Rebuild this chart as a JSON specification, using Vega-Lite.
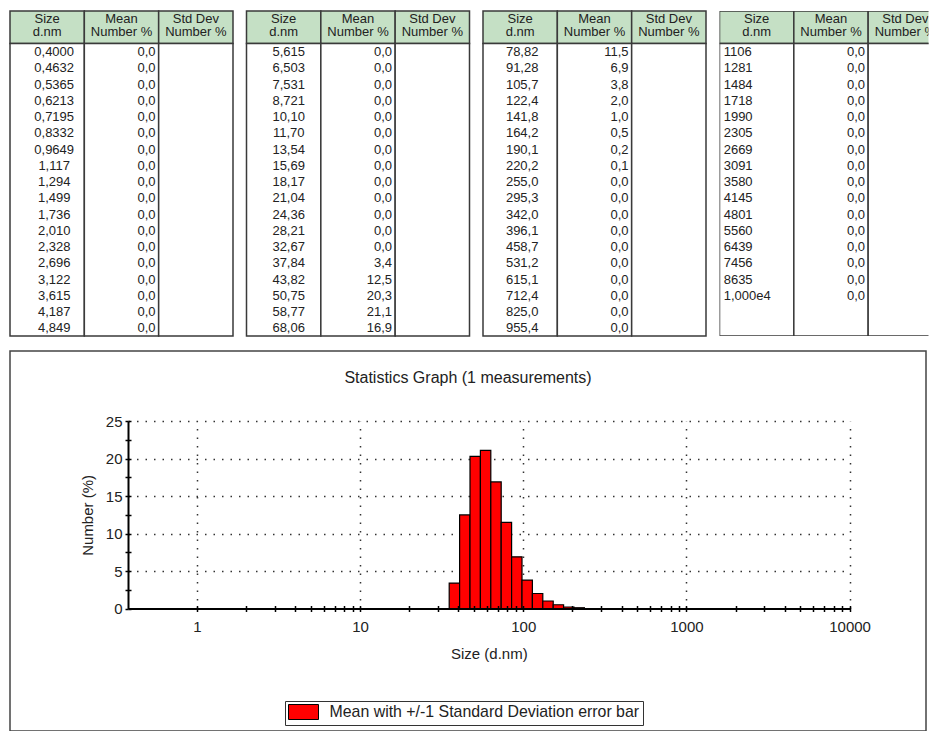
{
"$schema": "https://vega.github.io/schema/vega-lite/v6.json",
"padding": {"left": 9, "top": 10, "right": 0, "bottom": 0},
"datasets": {
"hdr": [{"col":"size","h":"Size\nd.nm"},{"col":"mean","h":"Mean\nNumber %"},{"col":"sd","h":"Std Dev\nNumber %"}],
"tbl": [
{"t":1,"r":0,"s":"0,4000","m":"0,0"},{"t":1,"r":1,"s":"0,4632","m":"0,0"},{"t":1,"r":2,"s":"0,5365","m":"0,0"},{"t":1,"r":3,"s":"0,6213","m":"0,0"},{"t":1,"r":4,"s":"0,7195","m":"0,0"},{"t":1,"r":5,"s":"0,8332","m":"0,0"},{"t":1,"r":6,"s":"0,9649","m":"0,0"},{"t":1,"r":7,"s":"1,117","m":"0,0"},{"t":1,"r":8,"s":"1,294","m":"0,0"},{"t":1,"r":9,"s":"1,499","m":"0,0"},{"t":1,"r":10,"s":"1,736","m":"0,0"},{"t":1,"r":11,"s":"2,010","m":"0,0"},{"t":1,"r":12,"s":"2,328","m":"0,0"},{"t":1,"r":13,"s":"2,696","m":"0,0"},{"t":1,"r":14,"s":"3,122","m":"0,0"},{"t":1,"r":15,"s":"3,615","m":"0,0"},{"t":1,"r":16,"s":"4,187","m":"0,0"},{"t":1,"r":17,"s":"4,849","m":"0,0"},
{"t":2,"r":0,"s":"5,615","m":"0,0"},{"t":2,"r":1,"s":"6,503","m":"0,0"},{"t":2,"r":2,"s":"7,531","m":"0,0"},{"t":2,"r":3,"s":"8,721","m":"0,0"},{"t":2,"r":4,"s":"10,10","m":"0,0"},{"t":2,"r":5,"s":"11,70","m":"0,0"},{"t":2,"r":6,"s":"13,54","m":"0,0"},{"t":2,"r":7,"s":"15,69","m":"0,0"},{"t":2,"r":8,"s":"18,17","m":"0,0"},{"t":2,"r":9,"s":"21,04","m":"0,0"},{"t":2,"r":10,"s":"24,36","m":"0,0"},{"t":2,"r":11,"s":"28,21","m":"0,0"},{"t":2,"r":12,"s":"32,67","m":"0,0"},{"t":2,"r":13,"s":"37,84","m":"3,4"},{"t":2,"r":14,"s":"43,82","m":"12,5"},{"t":2,"r":15,"s":"50,75","m":"20,3"},{"t":2,"r":16,"s":"58,77","m":"21,1"},{"t":2,"r":17,"s":"68,06","m":"16,9"},
{"t":3,"r":0,"s":"78,82","m":"11,5"},{"t":3,"r":1,"s":"91,28","m":"6,9"},{"t":3,"r":2,"s":"105,7","m":"3,8"},{"t":3,"r":3,"s":"122,4","m":"2,0"},{"t":3,"r":4,"s":"141,8","m":"1,0"},{"t":3,"r":5,"s":"164,2","m":"0,5"},{"t":3,"r":6,"s":"190,1","m":"0,2"},{"t":3,"r":7,"s":"220,2","m":"0,1"},{"t":3,"r":8,"s":"255,0","m":"0,0"},{"t":3,"r":9,"s":"295,3","m":"0,0"},{"t":3,"r":10,"s":"342,0","m":"0,0"},{"t":3,"r":11,"s":"396,1","m":"0,0"},{"t":3,"r":12,"s":"458,7","m":"0,0"},{"t":3,"r":13,"s":"531,2","m":"0,0"},{"t":3,"r":14,"s":"615,1","m":"0,0"},{"t":3,"r":15,"s":"712,4","m":"0,0"},{"t":3,"r":16,"s":"825,0","m":"0,0"},{"t":3,"r":17,"s":"955,4","m":"0,0"},
{"t":4,"r":0,"s":"1106","m":"0,0"},{"t":4,"r":1,"s":"1281","m":"0,0"},{"t":4,"r":2,"s":"1484","m":"0,0"},{"t":4,"r":3,"s":"1718","m":"0,0"},{"t":4,"r":4,"s":"1990","m":"0,0"},{"t":4,"r":5,"s":"2305","m":"0,0"},{"t":4,"r":6,"s":"2669","m":"0,0"},{"t":4,"r":7,"s":"3091","m":"0,0"},{"t":4,"r":8,"s":"3580","m":"0,0"},{"t":4,"r":9,"s":"4145","m":"0,0"},{"t":4,"r":10,"s":"4801","m":"0,0"},{"t":4,"r":11,"s":"5560","m":"0,0"},{"t":4,"r":12,"s":"6439","m":"0,0"},{"t":4,"r":13,"s":"7456","m":"0,0"},{"t":4,"r":14,"s":"8635","m":"0,0"},{"t":4,"r":15,"s":"1,000e4","m":"0,0"}
],
"bars": [
{"size":37.84,"lo":35.16,"hi":40.72,"mean":3.4},
{"size":43.82,"lo":40.72,"hi":47.16,"mean":12.5},
{"size":50.75,"lo":47.16,"hi":54.61,"mean":20.3},
{"size":58.77,"lo":54.61,"hi":63.25,"mean":21.1},
{"size":68.06,"lo":63.25,"hi":73.24,"mean":16.9},
{"size":78.82,"lo":73.24,"hi":84.82,"mean":11.5},
{"size":91.28,"lo":84.82,"hi":98.23,"mean":6.9},
{"size":105.7,"lo":98.23,"hi":113.74,"mean":3.8},
{"size":122.4,"lo":113.74,"hi":131.74,"mean":2.0},
{"size":141.8,"lo":131.74,"hi":152.59,"mean":1.0},
{"size":164.2,"lo":152.59,"hi":176.68,"mean":0.5},
{"size":190.1,"lo":176.68,"hi":204.6,"mean":0.2},
{"size":220.2,"lo":204.6,"hi":236.96,"mean":0.1}
]
},
"vconcat": [
{
"hconcat": [
{
"width": 223, "height": 325,
"layer": [
{"data":{"name":"hdr"},"mark":{"type":"rect","fill":"#c5e0c5","stroke":"#3a3a3a","strokeWidth":1.5},
 "encoding":{"x":{"field":"col","type":"nominal","sort":null,"scale":{"type":"band","domain":["size","mean","sd"],"paddingInner":0,"paddingOuter":0},"axis":null},
 "y":{"datum":-2,"type":"quantitative","scale":{"domain":[-2,18],"reverse":true,"nice":false,"zero":false},"axis":null},"y2":{"datum":0}}},
{"data":{"name":"hdr"},"mark":{"type":"rect","fill":"#ffffff","stroke":"#3a3a3a","strokeWidth":1.5},
 "encoding":{"x":{"field":"col","type":"nominal","sort":null,"axis":null},"y":{"datum":0,"type":"quantitative","axis":null},"y2":{"datum":18}}},
{"data":{"name":"hdr"},"mark":{"type":"text","baseline":"top","lineBreak":"\n","lineHeight":13,"dy":1.5,"font":"Liberation Sans","fontSize":13,"fill":"#222"},
 "encoding":{"x":{"field":"col","type":"nominal","sort":null,"axis":null},"y":{"datum":-2,"type":"quantitative","axis":null},"text":{"field":"h"}}},
{"data":{"name":"tbl"},"transform":[{"filter":"datum.t == 1"}],"mark":{"type":"text","baseline":"top","align":"center","dy":2.5,"dx":7,"font":"Liberation Sans","fontSize":13,"fill":"#222"},
 "encoding":{"x":{"datum":"size","type":"nominal","axis":null},"y":{"field":"r","type":"quantitative","axis":null},"text":{"field":"s"}}},
{"data":{"name":"tbl"},"transform":[{"filter":"datum.t == 1"}],"mark":{"type":"text","baseline":"top","align":"right","dy":2.5,"dx":34,"font":"Liberation Sans","fontSize":13,"fill":"#222"},
 "encoding":{"x":{"datum":"mean","type":"nominal","axis":null},"y":{"field":"r","type":"quantitative","axis":null},"text":{"field":"m"}}}
]
},
{
"width": 223, "height": 325,
"layer": [
{"data":{"name":"hdr"},"mark":{"type":"rect","fill":"#c5e0c5","stroke":"#3a3a3a","strokeWidth":1.5},
 "encoding":{"x":{"field":"col","type":"nominal","sort":null,"scale":{"type":"band","domain":["size","mean","sd"],"paddingInner":0,"paddingOuter":0},"axis":null},
 "y":{"datum":-2,"type":"quantitative","scale":{"domain":[-2,18],"reverse":true,"nice":false,"zero":false},"axis":null},"y2":{"datum":0}}},
{"data":{"name":"hdr"},"mark":{"type":"rect","fill":"#ffffff","stroke":"#3a3a3a","strokeWidth":1.5},
 "encoding":{"x":{"field":"col","type":"nominal","sort":null,"axis":null},"y":{"datum":0,"type":"quantitative","axis":null},"y2":{"datum":18}}},
{"data":{"name":"hdr"},"mark":{"type":"text","baseline":"top","lineBreak":"\n","lineHeight":13,"dy":1.5,"font":"Liberation Sans","fontSize":13,"fill":"#222"},
 "encoding":{"x":{"field":"col","type":"nominal","sort":null,"axis":null},"y":{"datum":-2,"type":"quantitative","axis":null},"text":{"field":"h"}}},
{"data":{"name":"tbl"},"transform":[{"filter":"datum.t == 2"}],"mark":{"type":"text","baseline":"top","align":"center","dy":2.5,"dx":5,"font":"Liberation Sans","fontSize":13,"fill":"#222"},
 "encoding":{"x":{"datum":"size","type":"nominal","axis":null},"y":{"field":"r","type":"quantitative","axis":null},"text":{"field":"s"}}},
{"data":{"name":"tbl"},"transform":[{"filter":"datum.t == 2"}],"mark":{"type":"text","baseline":"top","align":"right","dy":2.5,"dx":34,"font":"Liberation Sans","fontSize":13,"fill":"#222"},
 "encoding":{"x":{"datum":"mean","type":"nominal","axis":null},"y":{"field":"r","type":"quantitative","axis":null},"text":{"field":"m"}}}
]
},
{
"width": 223, "height": 325,
"layer": [
{"data":{"name":"hdr"},"mark":{"type":"rect","fill":"#c5e0c5","stroke":"#3a3a3a","strokeWidth":1.5},
 "encoding":{"x":{"field":"col","type":"nominal","sort":null,"scale":{"type":"band","domain":["size","mean","sd"],"paddingInner":0,"paddingOuter":0},"axis":null},
 "y":{"datum":-2,"type":"quantitative","scale":{"domain":[-2,18],"reverse":true,"nice":false,"zero":false},"axis":null},"y2":{"datum":0}}},
{"data":{"name":"hdr"},"mark":{"type":"rect","fill":"#ffffff","stroke":"#3a3a3a","strokeWidth":1.5},
 "encoding":{"x":{"field":"col","type":"nominal","sort":null,"axis":null},"y":{"datum":0,"type":"quantitative","axis":null},"y2":{"datum":18}}},
{"data":{"name":"hdr"},"mark":{"type":"text","baseline":"top","lineBreak":"\n","lineHeight":13,"dy":1.5,"font":"Liberation Sans","fontSize":13,"fill":"#222"},
 "encoding":{"x":{"field":"col","type":"nominal","sort":null,"axis":null},"y":{"datum":-2,"type":"quantitative","axis":null},"text":{"field":"h"}}},
{"data":{"name":"tbl"},"transform":[{"filter":"datum.t == 3"}],"mark":{"type":"text","baseline":"top","align":"center","dy":2.5,"dx":2,"font":"Liberation Sans","fontSize":13,"fill":"#222"},
 "encoding":{"x":{"datum":"size","type":"nominal","axis":null},"y":{"field":"r","type":"quantitative","axis":null},"text":{"field":"s"}}},
{"data":{"name":"tbl"},"transform":[{"filter":"datum.t == 3"}],"mark":{"type":"text","baseline":"top","align":"right","dy":2.5,"dx":34,"font":"Liberation Sans","fontSize":13,"fill":"#222"},
 "encoding":{"x":{"datum":"mean","type":"nominal","axis":null},"y":{"field":"r","type":"quantitative","axis":null},"text":{"field":"m"}}}
]
},
{
"width": 209, "height": 325,
"layer": [
{"data":{"name":"hdr"},"mark":{"type":"rect","fill":"#c5e0c5","stroke":"#3a3a3a","strokeWidth":1.5,"clip":true},
 "encoding":{"x":{"field":"col","type":"nominal","sort":null,"scale":{"type":"band","domain":["size","mean","sd"],"range":[0,223],"paddingInner":0,"paddingOuter":0},"axis":null},
 "y":{"datum":-2,"type":"quantitative","scale":{"domain":[-2,18],"reverse":true,"nice":false,"zero":false},"axis":null},"y2":{"datum":0}}},
{"data":{"name":"hdr"},"mark":{"type":"rect","fill":"#ffffff","stroke":"#3a3a3a","strokeWidth":1.5,"clip":true},
 "encoding":{"x":{"field":"col","type":"nominal","sort":null,"axis":null},"y":{"datum":0,"type":"quantitative","axis":null},"y2":{"datum":18}}},
{"data":{"name":"hdr"},"mark":{"type":"text","baseline":"top","lineBreak":"\n","lineHeight":13,"dy":1.5,"font":"Liberation Sans","fontSize":13,"fill":"#222","clip":true},
 "encoding":{"x":{"field":"col","type":"nominal","sort":null,"axis":null},"y":{"datum":-2,"type":"quantitative","axis":null},"text":{"field":"h"}}},
{"data":{"name":"tbl"},"transform":[{"filter":"datum.t == 4"}],"mark":{"type":"text","baseline":"top","align":"left","dy":2.5,"dx":-33,"font":"Liberation Sans","fontSize":13,"fill":"#222"},
 "encoding":{"x":{"datum":"size","type":"nominal","axis":null},"y":{"field":"r","type":"quantitative","axis":null},"text":{"field":"s"}}},
{"data":{"name":"tbl"},"transform":[{"filter":"datum.t == 4"}],"mark":{"type":"text","baseline":"top","align":"right","dy":2.5,"dx":34,"font":"Liberation Sans","fontSize":13,"fill":"#222"},
 "encoding":{"x":{"datum":"mean","type":"nominal","axis":null},"y":{"field":"r","type":"quantitative","axis":null},"text":{"field":"m"}}}
]
}
],
"spacing": 13.5,
"bounds": "flush"
},
{
"width": 916, "height": 380,
"view": {"stroke": "#444444", "strokeWidth": 1.5},
"title": {"text": "Statistics Graph (1 measurements)", "frame": "group", "anchor": "middle", "offset": -43, "baseline": "middle", "font": "Liberation Sans", "fontSize": 16, "fontWeight": "normal", "color": "#222"},
"resolve": {"axis": {"x": "independent", "y": "independent"}},
"layer": [
{"data":{"name":"bars"},"mark":{"type":"point","opacity":0},
 "encoding":{
  "x":{"field":"lo","type":"quantitative","scale":{"type":"log","domain":[0.378,10000],"range":[118,839.6],"nice":false},
   "axis":{"orient":"top","offset":0,"values":[1,10,100,1000,10000],"grid":true,"gridDash":[1.5,7],"gridColor":"#333","gridWidth":1.5,"labels":false,"ticks":false,"domain":false,"title":null}},
  "y":{"field":"mean","type":"quantitative","scale":{"domain":[0,25],"range":[257.5,70.25],"nice":false,"zero":false},
   "axis":{"orient":"left","offset":0,"values":[5,10,15,20,25],"grid":true,"gridDash":[1.5,7],"gridColor":"#333","gridWidth":1.5,"labels":false,"ticks":false,"domain":false,"title":null}}
 }},
{"data":{"name":"bars"},"mark":{"type":"rect","stroke":"#000","strokeWidth":1.2},
 "encoding":{
  "x":{"field":"lo","type":"quantitative","scale":{"type":"log","domain":[0.378,10000],"range":[118,839.6],"nice":false},
   "axis":{"orient":"bottom","offset":-122.5,"values":[1,2,3,4,5,6,7,8,9,10,20,30,40,50,60,70,80,90,100,200,300,400,500,600,700,800,900,1000,2000,3000,4000,5000,6000,7000,8000,9000,10000],
    "labelExpr":"indexof([1,10,100,1000,10000], datum.value) >= 0 ? format(datum.value, 'd') : ''","labelOverlap":false,"labelFlush":false,
    "grid":false,"tickSize":3,"tickWidth":1.5,"tickColor":"#000","domainColor":"#000","domainWidth":2,
    "labelFont":"Liberation Sans","labelFontSize":15,"labelColor":"#222","labelPadding":8,
    "title":"Size (d.nm)","titleFont":"Liberation Sans","titleFontSize":15,"titleFontWeight":"normal","titleColor":"#222","titlePadding":12,"zindex":1}},
  "x2":{"field":"hi"},
  "y":{"field":"mean","type":"quantitative","scale":{"domain":[0,25],"range":[257.5,70.25],"nice":false,"zero":false},
   "axis":{"orient":"left","offset":-118,"values":[0,2.5,5,7.5,10,12.5,15,17.5,20,22.5,25],
    "labelExpr":"datum.value % 5 == 0 ? format(datum.value, 'd') : ''","labelOverlap":false,"labelFlush":false,
    "grid":false,"tickSize":3,"tickWidth":1.5,"tickColor":"#000","domainColor":"#000","domainWidth":2,
    "labelFont":"Liberation Sans","labelFontSize":15,"labelColor":"#222","labelPadding":3,
    "title":"Number (%)","titleFont":"Liberation Sans","titleFontSize":15,"titleFontWeight":"normal","titleColor":"#222","titlePadding":10,"zindex":1}},
  "y2":{"datum":0},
  "color":{"datum":"Mean with +/-1 Standard Deviation error bar","type":"nominal","scale":{"range":["#ff0000"]},
   "legend":{"orient":"none","legendX":275,"legendY":690,"title":null,"symbolType":"M-2,-1H2V1H-2Z","symbolSize":225,"symbolOffset":7.5,"symbolStrokeColor":"#000","symbolStrokeWidth":1,
    "labelFont":"Liberation Sans","labelFontSize":15.9,"labelColor":"#222","labelOffset":18,"labelLimit":500,"padding":3,"strokeColor":"#333","fillColor":"#fff"}}
 }},
{"data":{"name":"bars"},"mark":{"type":"point","opacity":0},
 "encoding":{
  "x":{"field":"lo","type":"quantitative","scale":{"type":"log","domain":[0.378,10000],"range":[118,839.6],"nice":false},
   "axis":{"orient":"top","offset":-257.5,"values":[1,2,3,4,5,6,7,8,9,10,20,30,40,50,60,70,80,90,100,200,300,400,500,600,700,800,900,1000,2000,3000,4000,5000,6000,7000,8000,9000,10000],
    "labels":false,"domain":false,"grid":false,"tickSize":3,"tickWidth":1.5,"tickColor":"#000","title":null,"zindex":1}},
  "y":{"field":"mean","type":"quantitative","scale":{"domain":[0,25],"range":[257.5,70.25],"nice":false,"zero":false},
   "axis":{"orient":"right","offset":-798,"values":[0,2.5,5,7.5,10,12.5,15,17.5,20,22.5,25],
    "labels":false,"domain":false,"grid":false,"tickSize":3,"tickWidth":1.5,"tickColor":"#000","title":null,"zindex":1}}
 }}
]
}
],
"spacing": 13,
"config": {"view": {"stroke": null}, "font": "Liberation Sans"}
}
